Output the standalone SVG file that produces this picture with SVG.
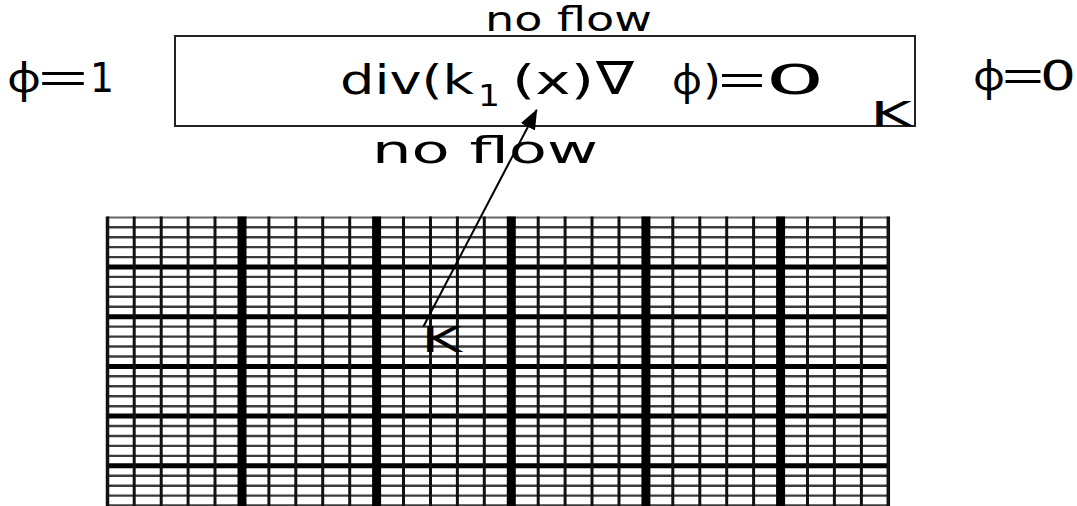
<svg xmlns="http://www.w3.org/2000/svg" width="1077" height="506" viewBox="0 0 1077 506">
<defs>
<style>
.s{font-family:"DejaVu Sans","Liberation Sans",sans-serif;fill:#000}
.p{font-family:"Noto Sans","Open Sans",Roboto,sans-serif}
.e{font-family:"Liberation Sans",sans-serif}
.hl{stroke:#3c3c3c;stroke-width:2.4}
.hk{stroke:#000;stroke-width:5}
.vl{stroke:#111;stroke-width:3}
.vk{stroke:#000;stroke-width:9}
</style>
<marker id="ah" markerWidth="20" markerHeight="16" refX="19" refY="8" orient="auto" markerUnits="userSpaceOnUse">
<path d="M0,0 L20,8 L0,16 z" fill="#000"/>
</marker>
</defs>
<rect width="1077" height="506" fill="#fff"/>

<g id="grid">
<g id="hlines">
<line class="hl" x1="107" y1="217.5" x2="889" y2="217.5" style="stroke:#666;stroke-width:2"/>
<line class="hl" x1="107" y1="227.3" x2="889" y2="227.3"/>
<line class="hl" x1="107" y1="237.2" x2="889" y2="237.2"/>
<line class="hl" x1="107" y1="247.1" x2="889" y2="247.1"/>
<line class="hl" x1="107" y1="257.1" x2="889" y2="257.1"/>
<line class="hk" x1="107" y1="267" x2="889" y2="267"/>
<line class="hl" x1="107" y1="276.9" x2="889" y2="276.9"/>
<line class="hl" x1="107" y1="286.9" x2="889" y2="286.9"/>
<line class="hl" x1="107" y1="296.8" x2="889" y2="296.8"/>
<line class="hl" x1="107" y1="306.8" x2="889" y2="306.8"/>
<line class="hk" x1="107" y1="316.7" x2="889" y2="316.7"/>
<line class="hl" x1="107" y1="326.6" x2="889" y2="326.6"/>
<line class="hl" x1="107" y1="336.6" x2="889" y2="336.6"/>
<line class="hl" x1="107" y1="346.5" x2="889" y2="346.5"/>
<line class="hl" x1="107" y1="356.5" x2="889" y2="356.5"/>
<line class="hk" x1="107" y1="366.4" x2="889" y2="366.4"/>
<line class="hl" x1="107" y1="376.3" x2="889" y2="376.3"/>
<line class="hl" x1="107" y1="386.3" x2="889" y2="386.3"/>
<line class="hl" x1="107" y1="396.2" x2="889" y2="396.2"/>
<line class="hl" x1="107" y1="406.2" x2="889" y2="406.2"/>
<line class="hk" x1="107" y1="416.1" x2="889" y2="416.1"/>
<line class="hl" x1="107" y1="426" x2="889" y2="426"/>
<line class="hl" x1="107" y1="436" x2="889" y2="436"/>
<line class="hl" x1="107" y1="445.9" x2="889" y2="445.9"/>
<line class="hl" x1="107" y1="455.9" x2="889" y2="455.9"/>
<line class="hk" x1="107" y1="465.8" x2="889" y2="465.8"/>
<line class="hl" x1="107" y1="475.7" x2="889" y2="475.7"/>
<line class="hl" x1="107" y1="485.7" x2="889" y2="485.7"/>
<line class="hl" x1="107" y1="495.6" x2="889" y2="495.6"/>
<line class="hl" x1="107" y1="505.5" x2="889" y2="505.5"/>
</g>
<g id="vlines">
<line class="vl" x1="107.5" y1="216.5" x2="107.5" y2="506" style="stroke-width:3.5"/>
<line class="vl" x1="134.2" y1="216.5" x2="134.2" y2="506"/>
<line class="vl" x1="161.2" y1="216.5" x2="161.2" y2="506"/>
<line class="vl" x1="188.1" y1="216.5" x2="188.1" y2="506"/>
<line class="vl" x1="215" y1="216.5" x2="215" y2="506"/>
<line class="vk" x1="242" y1="216.5" x2="242" y2="506"/>
<line class="vl" x1="268.9" y1="216.5" x2="268.9" y2="506"/>
<line class="vl" x1="295.8" y1="216.5" x2="295.8" y2="506"/>
<line class="vl" x1="322.7" y1="216.5" x2="322.7" y2="506"/>
<line class="vl" x1="349.7" y1="216.5" x2="349.7" y2="506"/>
<line class="vk" x1="376.6" y1="216.5" x2="376.6" y2="506"/>
<line class="vl" x1="403.5" y1="216.5" x2="403.5" y2="506"/>
<line class="vl" x1="430.5" y1="216.5" x2="430.5" y2="506"/>
<line class="vl" x1="457.4" y1="216.5" x2="457.4" y2="506"/>
<line class="vl" x1="484.3" y1="216.5" x2="484.3" y2="506"/>
<line class="vk" x1="511.3" y1="216.5" x2="511.3" y2="506"/>
<line class="vl" x1="538.2" y1="216.5" x2="538.2" y2="506"/>
<line class="vl" x1="565.1" y1="216.5" x2="565.1" y2="506"/>
<line class="vl" x1="592" y1="216.5" x2="592" y2="506"/>
<line class="vl" x1="619" y1="216.5" x2="619" y2="506"/>
<line class="vk" x1="645.9" y1="216.5" x2="645.9" y2="506"/>
<line class="vl" x1="672.8" y1="216.5" x2="672.8" y2="506"/>
<line class="vl" x1="699.8" y1="216.5" x2="699.8" y2="506"/>
<line class="vl" x1="726.7" y1="216.5" x2="726.7" y2="506"/>
<line class="vl" x1="753.6" y1="216.5" x2="753.6" y2="506"/>
<line class="vk" x1="780.6" y1="216.5" x2="780.6" y2="506"/>
<line class="vl" x1="807.5" y1="216.5" x2="807.5" y2="506"/>
<line class="vl" x1="834.4" y1="216.5" x2="834.4" y2="506"/>
<line class="vl" x1="861.4" y1="216.5" x2="861.4" y2="506"/>
<line class="vl" x1="888.3" y1="216.5" x2="888.3" y2="506" style="stroke-width:3.5"/>
</g>
</g>

<g id="domain">
<rect x="175" y="36" width="740" height="90" fill="none" stroke="#222" stroke-width="2"/>
<text class="s" font-size="40" y="94"><tspan x="340" textLength="134" lengthAdjust="spacingAndGlyphs">div(k</tspan><tspan x="478" dy="12" font-size="30" textLength="22" lengthAdjust="spacingAndGlyphs">1</tspan><tspan x="512" dy="-12" textLength="82" lengthAdjust="spacingAndGlyphs">(x)</tspan><tspan x="596" font-size="46" textLength="38" lengthAdjust="spacingAndGlyphs">∇</tspan> <tspan class="p" x="672" textLength="30" lengthAdjust="spacingAndGlyphs">φ</tspan><tspan x="703" textLength="18" lengthAdjust="spacingAndGlyphs">)</tspan><tspan class="e" x="718" textLength="48" lengthAdjust="spacingAndGlyphs">=</tspan><tspan x="765" textLength="60" lengthAdjust="spacingAndGlyphs">0</tspan></text>
<text class="s" font-size="34" x="870" y="126" textLength="42" lengthAdjust="spacingAndGlyphs">K</text>
</g>

<g id="labels">
<text class="s" font-size="34" x="485" y="31" textLength="167" lengthAdjust="spacingAndGlyphs">no flow</text>
<text class="s" font-size="38" x="372" y="163" textLength="226" lengthAdjust="spacingAndGlyphs">no flow</text>
<text class="s" font-size="40" y="92"><tspan class="p" x="7" textLength="34" lengthAdjust="spacingAndGlyphs">φ</tspan><tspan class="e" x="38" textLength="50" lengthAdjust="spacingAndGlyphs">=</tspan><tspan x="90" textLength="24" lengthAdjust="spacingAndGlyphs">1</tspan></text>
<text class="s" font-size="40" y="90"><tspan class="p" x="973" textLength="32" lengthAdjust="spacingAndGlyphs">φ</tspan><tspan class="e" x="1002" textLength="42" lengthAdjust="spacingAndGlyphs">=</tspan><tspan x="1040" textLength="36" lengthAdjust="spacingAndGlyphs">0</tspan></text>
</g>

<g id="cellK">
<text class="s" font-size="35" x="421" y="352" textLength="41" lengthAdjust="spacingAndGlyphs">K</text>
</g>

<g id="connectors">
<line x1="423.3" y1="326.7" x2="536.7" y2="110" stroke="#000" stroke-width="2" marker-end="url(#ah)"/>
</g>
</svg>
